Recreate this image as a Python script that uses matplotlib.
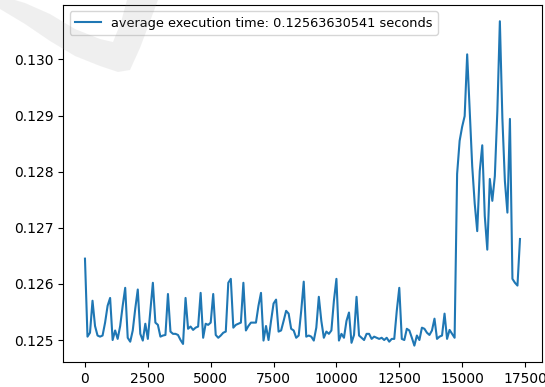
import matplotlib
matplotlib.use("Agg")
import matplotlib.pyplot as plt
from matplotlib.patches import Polygon

# run index step and measured execution times (seconds)
step = 100
times = [
    0.12645, 0.12506, 0.12513, 0.12570, 0.12525, 0.12508, 0.12506, 0.12508, 0.12531, 0.12561,
    0.12575, 0.12500, 0.12517, 0.12502, 0.12525, 0.12561, 0.12593, 0.12504, 0.12497, 0.12517,
    0.12556, 0.12590, 0.12511, 0.12499, 0.12529, 0.12502, 0.12552, 0.12602, 0.12531, 0.12527,
    0.12506, 0.12508, 0.12509, 0.12582, 0.12515, 0.12511, 0.12511, 0.12509, 0.12500, 0.12493,
    0.12575, 0.12520, 0.12524, 0.12518, 0.12522, 0.12524, 0.12584, 0.12504, 0.12529, 0.12527,
    0.12531, 0.12582, 0.12509, 0.12504, 0.12508, 0.12513, 0.12515, 0.12602, 0.12609, 0.12522,
    0.12527, 0.12529, 0.12531, 0.12602, 0.12517, 0.12525, 0.12531, 0.12531, 0.12531, 0.12561,
    0.12584, 0.12499, 0.12525, 0.12500, 0.12534, 0.12565, 0.12572, 0.12515, 0.12517, 0.12534,
    0.12552, 0.12547, 0.12520, 0.12517, 0.12504, 0.12508, 0.12552, 0.12604, 0.12506, 0.12508,
    0.12506, 0.12499, 0.12522, 0.12577, 0.12534, 0.12504, 0.12515, 0.12511, 0.12517, 0.12570,
    0.12609, 0.12499, 0.12511, 0.12504, 0.12534, 0.12549, 0.12495, 0.12509, 0.12577, 0.12508,
    0.12504, 0.12500, 0.12511, 0.12511, 0.12502, 0.12506, 0.12504, 0.12502, 0.12504, 0.12500,
    0.12504, 0.12497, 0.12502, 0.12502, 0.12552, 0.12593, 0.12502, 0.12500, 0.12520, 0.12517,
    0.12504, 0.12490, 0.12508, 0.12500, 0.12522, 0.12520, 0.12513, 0.12509, 0.12517, 0.12538,
    0.12502, 0.12506, 0.12508, 0.12547, 0.12502, 0.12518, 0.12511, 0.12504, 0.12796, 0.12855,
    0.12880, 0.12899, 0.13009, 0.12908, 0.12810, 0.12743, 0.12694, 0.12801, 0.12847, 0.12721,
    0.12661, 0.12787, 0.12748, 0.12792, 0.12908, 0.13068, 0.12895, 0.12783, 0.12727, 0.12894,
    0.12609, 0.12602, 0.12597, 0.12680,
]
runs = [i * step for i in range(len(times))]
label = "average execution time: 0.12563630541 seconds"

fig = plt.figure(figsize=(5.45, 3.87), dpi=100)
ax = fig.add_axes([0.116, 0.065, 0.878, 0.922])
ax.plot(runs, times, color="#1f77b4", linewidth=1.5, label=label)
ax.legend(loc="upper left", fontsize=9.3)
ax.tick_params(labelsize=10)

# faint grey watermark swoosh in the top left corner (pixel coords of the screenshot)
swoosh = [(0, 0), (0, 9), (25, 24), (50, 41), (75, 56), (100, 66), (118, 72), (130, 70),
          (140, 48), (149, 24), (158, 0), (127, 0), (121, 22), (113, 42), (100, 39),
          (75, 29), (50, 14), (25, 3), (15, 0)]
pts = [(x / 545, 1 - y / 387) for x, y in swoosh]
fig.patches.append(Polygon(pts, closed=True, transform=fig.transFigure,
                           facecolor="#999999", alpha=0.15, edgecolor="none", zorder=10))

fig.savefig("out.png", dpi=100)
